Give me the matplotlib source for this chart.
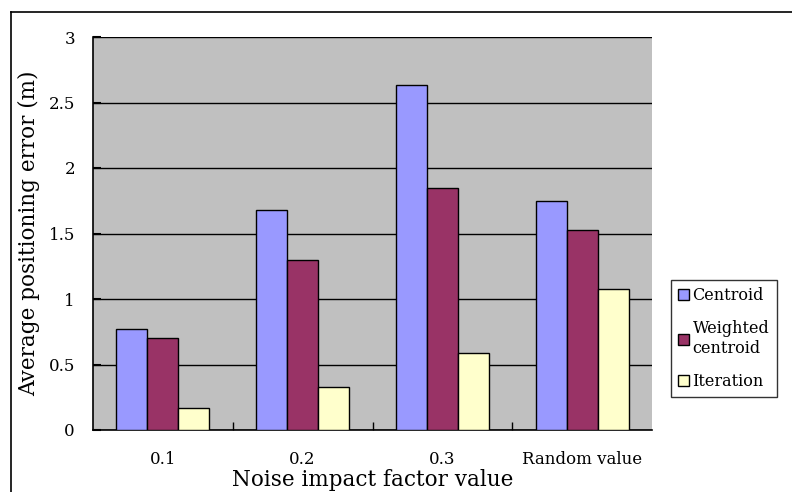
import numpy as np
import matplotlib.pyplot as plt
from matplotlib.lines import Line2D

plt.rcParams['font.family'] = ['DejaVu Serif']

# Average positioning error for each noise impact factor
categories = ['0.1', '0.2', '0.3', 'Random value']
centroid = [0.77, 1.68, 2.63, 1.75]
weighted = [0.70, 1.30, 1.85, 1.53]
iteration = [0.17, 0.33, 0.59, 1.08]

series = [('Centroid', centroid, '#9999FF'),
          ('Weighted\ncentroid', weighted, '#993366'),
          ('Iteration', iteration, '#FFFFCC')]

fig = plt.figure(figsize=(7.92, 4.92), dpi=100)
ax = fig.add_axes([93/792, 1-430/492, (652-93)/792, (430-37)/492])
ax.set_facecolor('#C0C0C0')

x = np.arange(len(categories))
w = 1/4.5
for i, (name, vals, col) in enumerate(series):
    ax.bar(x + (i-1)*w, vals, w, color=col, edgecolor='black', linewidth=1,
           label=name, zorder=3)

ax.set_xlim(-0.5, len(categories)-0.5)
ax.set_ylim(0, 3)
ax.set_yticks(np.arange(0, 3.01, 0.5))
ax.set_yticklabels(['0', '0.5', '1', '1.5', '2', '2.5', '3'])
ax.yaxis.grid(True, color='black', linewidth=1)
ax.set_axisbelow(True)

ax.set_xticks(x)
ax.set_xticklabels(categories, fontsize=12)
ax.set_xticks(x[:-1] + 0.5, minor=True)
ax.tick_params(axis='x', which='major', length=0, pad=15)
ax.tick_params(axis='x', which='minor', direction='in', length=6, width=1)
ax.tick_params(axis='y', direction='in', length=6, width=1.5, labelsize=12, pad=13)

for s in ['top', 'right']:
    ax.spines[s].set_visible(False)
for s in ['left', 'bottom']:
    ax.spines[s].set_linewidth(1.2)

ax.set_xlabel('Noise impact factor value', fontsize=15.5, labelpad=1)
ax.set_ylabel('Average positioning error (m)', fontsize=15.5, labelpad=6)

leg = fig.legend(loc='upper left', bbox_to_anchor=(671/792, 1-280/492),
                 fontsize=11.5, frameon=True, fancybox=False, edgecolor='black',
                 handlelength=0.7, handleheight=0.7, handletextpad=0.2,
                 labelspacing=1.0, borderpad=0.45, borderaxespad=0)
leg.get_frame().set_linewidth(1)

# outer chart border
fig.add_artist(Line2D([11/792, 11/792], [0, 1-12/492], color='black', lw=1.2,
                      transform=fig.transFigure))
fig.add_artist(Line2D([11/792, 1], [1-12/492, 1-12/492], color='black', lw=1.2,
                      transform=fig.transFigure))

fig.savefig('out.png', dpi=100)
